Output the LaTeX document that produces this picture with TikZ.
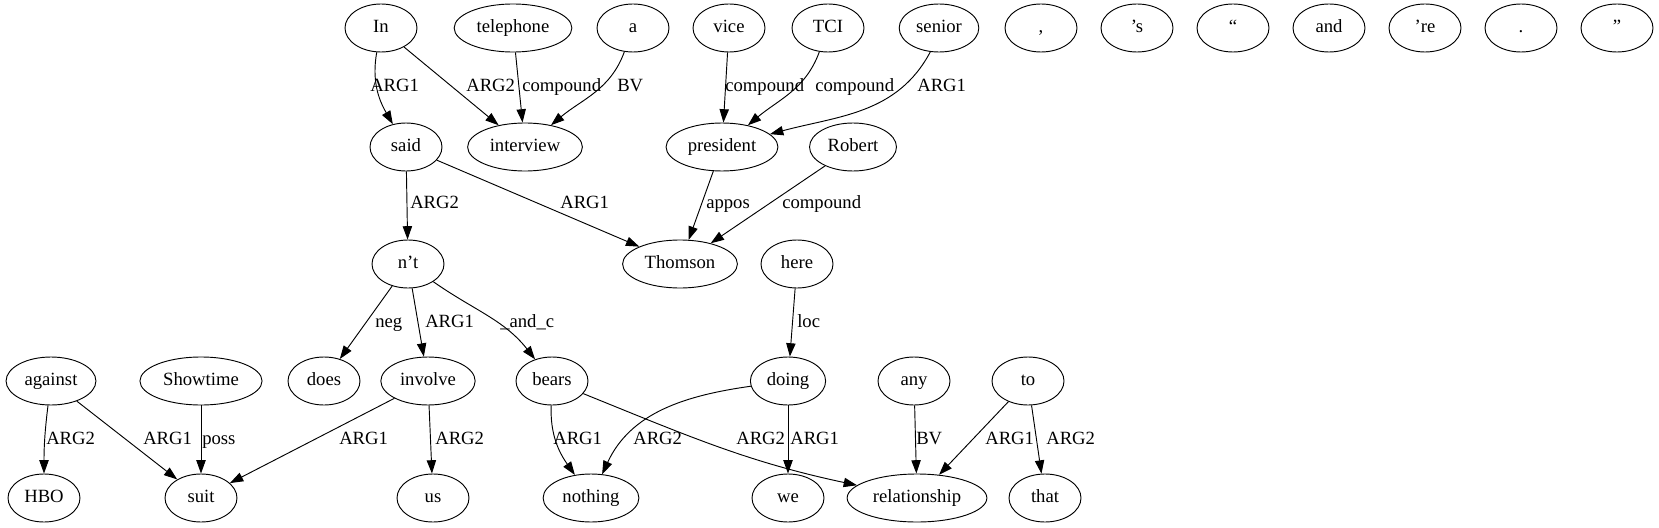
\documentclass[tikz,border=0pt]{standalone}
\usepackage{fontspec}
\setmainfont{Liberation Serif}
\usetikzlibrary{shapes.geometric,arrows.meta}
\tikzset{
  w/.style={ellipse, draw, line width=0.7pt, minimum width=54pt, minimum height=36pt,
    inner xsep=4pt, inner ysep=2pt, text height=9.5pt, text depth=3pt,
    font=\fontsize{14}{16}\selectfont},
  lbl/.style={inner sep=0pt, anchor=west, text height=9.5pt, text depth=3pt,
    font=\fontsize{14}{16}\selectfont},
  e/.style={draw, line width=0.7pt, -{Triangle[length=10pt,width=7pt]}}
}
\begin{document}
\begin{tikzpicture}[x=0.75pt,y=-0.75pt]
\useasboundingbox (0,0) rectangle (1659,528);
% row 1
\node[w] (nIn) at (381,28) {In};
\node[w] (nTel) at (513,28) {telephone};
\node[w] (nA) at (633,28) {a};
\node[w] (nVice) at (729,28) {vice};
\node[w] (nTCI) at (828,28) {TCI};
\node[w] (nSenior) at (939,28) {senior};
\node[w] (nComma) at (1041,28) {,};
\node[w] (nS) at (1137,28) {’s};
\node[w] (nLq) at (1233,28) {“};
\node[w] (nAnd) at (1329,28) {and};
\node[w] (nRe) at (1425,28) {’re};
\node[w] (nDot) at (1521,28) {.};
\node[w] (nRq) at (1617,28) {”};
% row 2
\node[w] (nSaid) at (406,147) {said};
\node[w] (nInterview) at (525,147) {interview};
\node[w] (nPres) at (722,147) {president};
\node[w] (nRobert) at (853,147) {Robert};
% row 3
\node[w] (nNt) at (408,264) {n’t};
\node[w] (nThomson) at (680,264) {Thomson};
\node[w] (nHere) at (797,264) {here};
% row 4
\node[w] (nAgainst) at (51,381) {against};
\node[w] (nShowtime) at (201,381) {Showtime};
\node[w] (nDoes) at (324,381) {does};
\node[w] (nInvolve) at (428,381) {involve};
\node[w] (nBears) at (552,381) {bears};
\node[w] (nDoing) at (788,381) {doing};
\node[w] (nAny) at (914,381) {any};
\node[w] (nTo) at (1028,381) {to};
% row 5
\node[w] (nHBO) at (44,498) {HBO};
\node[w] (nSuit) at (201,498) {suit};
\node[w] (nUs) at (433,498) {us};
\node[w] (nNothing) at (591,498) {nothing};
\node[w] (nWe) at (788,498) {we};
\node[w] (nRel) at (917,498) {relationship};
\node[w] (nThat) at (1045,498) {that};
% edges
\path[e] (nIn) to[out=-100,in=120] (nSaid);
\path[e] (nIn) -- (nInterview);
\path[e] (nTel) -- (nInterview);
\path[e] (nA) to[out=-110,in=40] (nInterview);
\path[e] (nVice) -- (nPres);
\path[e] (nTCI) to[out=-110,in=40] (nPres);
\path[e] (nSenior.250) to[out=-118,in=15] (nPres);
\path[e] (nSaid) -- (nNt);
\path[e] (nSaid) -- (nThomson);
\path[e] (nPres) -- (nThomson);
\path[e] (nRobert) -- (nThomson);
\path[e] (nNt) -- (nDoes);
\path[e] (nNt) -- (nInvolve);
\path[e] (nNt) to[out=-35,in=128] (nBears);
\path[e] (nHere) -- (nDoing);
\path[e] (nAgainst) to[out=-97,in=90] (nHBO);
\path[e] (nAgainst) -- (nSuit);
\path[e] (nShowtime) -- (nSuit);
\path[e] (nInvolve) -- (nSuit);
\path[e] (nInvolve) -- (nUs);
\path[e] (nBears) to[out=-92,in=125] (nNothing);
\path[e] (nDoing) to[out=188,in=65] (nNothing);
\path[e] (nBears) to[out=-22,in=168] (nRel);
\path[e] (nDoing) -- (nWe);
\path[e] (nAny) -- (nRel);
\path[e] (nTo) -- (nRel);
\path[e] (nTo) -- (nThat);
% labels
\node[lbl] (l1) at (370,87) {ARG1};
\node[lbl] (l2) at (466,87) {ARG2};
\node[lbl] (l3) at (522,87) {compound};
\node[lbl] (l4) at (617,87) {BV};
\node[lbl] (l5) at (725,87) {compound};
\node[lbl] (l6) at (815,87) {compound};
\node[lbl] (l7) at (917,87) {ARG1};
\node[lbl] (l8) at (410,204) {ARG2};
\node[lbl] (l9) at (560,204) {ARG1};
\node[lbl] (l10) at (706,204) {appos};
\node[lbl] (l11) at (782,204) {compound};
\node[lbl] (l12) at (375,323) {neg};
\node[lbl] (l13) at (425,323) {ARG1};
\node[lbl] (l14) at (500,323) {\_and\_c};
\node[lbl] (l15) at (797,323) {loc};
\node[lbl] (l16) at (46,440) {ARG2};
\node[lbl] (l17) at (143,440) {ARG1};
\node[lbl] (l18) at (202,440) {poss};
\node[lbl] (l19) at (339,440) {ARG1};
\node[lbl] (l20) at (435,440) {ARG2};
\node[lbl] (l21) at (553,440) {ARG1};
\node[lbl] (l22) at (633,440) {ARG2};
\node[lbl] (l23) at (736,440) {ARG2};
\node[lbl] (l24) at (790,440) {ARG1};
\node[lbl] (l25) at (916,440) {BV};
\node[lbl] (l26) at (985,440) {ARG1};
\node[lbl] (l27) at (1046,440) {ARG2};
\end{tikzpicture}
\end{document}
